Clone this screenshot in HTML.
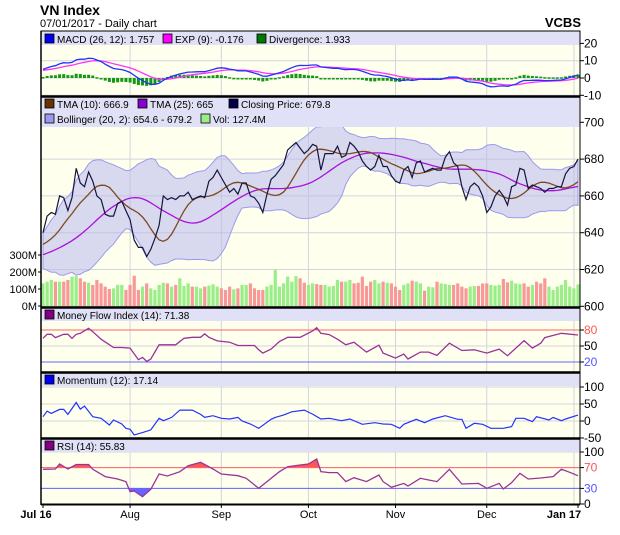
<!DOCTYPE html>
<html><head><meta charset="utf-8"><style>
html,body{margin:0;padding:0;background:#fff}
svg{display:block;font-family:"Liberation Sans",Arial,sans-serif}
</style></head><body>
<svg id="chart" width="620" height="535" viewBox="0 0 620 535">
<text x="40" y="15" font-size="14" font-weight="bold" fill="#000">VN Index</text>
<text x="40" y="27" font-size="11" fill="#000">07/01/2017 - Daily chart</text>
<text x="581" y="27" font-size="13" font-weight="bold" text-anchor="end" fill="#000">VCBS</text>
<g id="layers"></g>
</svg>
<script>
// ---- data ----
const historyCloses = [612,614,611,615,617,616,619,618,621,620,623,622,625,624,626,625,627,626,628,630,629,631,630,632,633,631,634,636,635,638];
const closes = [640,649,651,650,660,659,652,659,675,667,665,673,668,660,658,650,649,649,656,657,652,647,636,632,632,627,631,637,644,660,658,659,658,660,660,662,658,659,660,659,668,670,674,670,666,662,664,661,667,667,660,659,656,651,661,669,671,674,677,685,687,689,686,683,685,688,687,674,683,683,
683,687,681,682,689,687,684,679,676,674,676,682,676,676,671,668,667,674,676,670,678,679,673,674,675,674,674,681,684,678,676,665,658,665,667,665,660,651,654,660,663,660,655,665,666,675,674,664,666,665,664,662,664,664,665,665,672,675,676,680];
const volumes = [133,143,153,143,143,143,153,173,176,163,143,137,124,153,133,114,100,104,124,124,94,124,178,94,114,133,104,94,124,137,133,114,124,163,118,133,114,114,104,114,120,127,114,104,94,114,98,104,124,124,133,104,94,94,114,124,212,114,133,173,143,176,163,137,124,133,129,124,124,114,
118,153,143,143,153,133,137,173,118,143,153,133,143,137,133,114,94,124,133,149,143,133,90,114,110,143,133,129,124,124,133,114,104,114,118,118,133,133,124,120,124,159,139,149,133,129,133,114,124,143,133,163,114,94,114,124,153,114,104,127];
const mfiDays = [0,1,2,3,5,6,7,8,9,11,12,14,17,19,21,23,24,25,26,28,30,32,34,36,38,39,40,42,45,47,51,52,53,55,57,59,62,65,66,67,69,71,73,75,78,81,82,85,87,88,91,93,95,98,101,104,107,110,112,116,118,120,121,125,129];
const mfiValues = [64.5,72,72,65.8,72,72,64.5,72,73.8,83.1,76.9,62.7,47.2,47.2,46,24.3,28.7,21.2,25.6,52.2,52.2,52.2,64.5,66.4,66.4,72.6,66.4,59.6,57.1,50.9,50.9,42.9,36.7,44.1,58.4,66.4,66.4,78.1,84.3,73.8,71.3,62.7,52.2,57.1,38.6,51.5,36.7,27.4,34.8,25.6,38.6,38.6,32.4,55.3,41.6,42.9,36.7,44.1,31.8,60.2,46,55.3,65.8,73.8,70.7];
const momDays = [0,1,2,4,5,6,8,9,10,12,14,16,17,19,20,21,22,24,26,28,29,31,33,36,38,39,41,43,45,47,48,50,52,55,56,58,60,63,65,67,69,72,74,77,80,82,84,86,87,90,92,94,97,100,101,102,104,106,108,111,113,114,116,118,119,122,123,125,126,129];
const momValues = [12.6,29.1,22.3,34,34,19.4,54.4,35,43.7,12.6,7.8,-11.7,2.9,-8.7,-21.4,-24.3,-40.8,-34,-26.2,7.8,1,10.7,32,32,19.4,10.7,15.5,7.8,5.8,10.7,0,-8.7,-21.4,4.9,10.7,17.5,27.2,32,20.4,5.8,7.8,1,5.8,-9.7,-4.9,-8.7,-9.7,-21.4,-9.7,4.9,-4.9,5.8,15.5,4.9,4.9,-21.4,-6.8,-9.7,-21.4,-21.4,-16.5,7.8,7.8,-1.9,12.6,2.9,10.7,1,5.8,17.5];
const rsiDays = [0,3,4,6,8,11,12,15,18,20,21,22,24,26,28,30,33,35,38,41,43,47,49,52,54,57,59,62,64,66,67,69,71,73,75,78,81,82,84,87,88,91,93,95,98,101,105,107,110,111,113,115,117,120,123,125,127,129];
const rsiValues = [66.7,67.3,76.9,67.3,76,76,66.7,52.6,48.1,43,23.7,25,14.1,28.2,57.7,53.8,62.2,73.7,80.1,67.3,57.7,54.5,49.4,30.1,43,62.2,71.8,75,76.9,86.5,62.2,60.3,60.3,43,50.6,43,55.8,43,32.1,39.7,34.6,49.4,46.2,43,66.7,38.5,39.7,30.1,39.7,28.8,41,59,48.1,50,52.6,66.7,60.9,54.5];
const monthLabels = ["Jul 16","Aug","Sep","Oct","Nov","Dec","Jan 17"];
const monthIndex = [0,21,43,64,85,107,129];
const priceTicks = [700,680,660,640,620,600];
const volTicks = [300,200,100,0];
const macdTicks = [20,10,0,-10];
const mfiTicks = [80,50,20];
const momTicks = [100,50,0,-50];
const rsiTicks = [100,70,30,0];

// ---- geometry ----
const X0=41, X1=580, N=closes.length;
const xs = i => X0 + 2 + i*(X1-X0-4)/(N-1);
const yPrice = p => 122.3 + (700-p)*1.84;
const yVol = v => 306 - v*0.17;
const yMacd = v => 78 - v*1.73;
const yMfi = v => 330 + (80-v)*0.5333;
const yMom = v => 421 - v*0.34;
const yRsi = v => 504 - v*0.52;

// ---- indicators from closes ----
const full = historyCloses.concat(closes);
const H = historyCloses.length;
function sma(a,n){return a.map((_,i)=>{const s=Math.max(0,i-n+1);let t=0;for(let k=s;k<=i;k++)t+=a[k];return t/(i-s+1);});}
function ema(a,n){const k=2/(n+1);let out=[];a.forEach((v,i)=>out.push(i?v*k+out[i-1]*(1-k):v));return out;}
const tma10 = sma(sma(full,6),5);
const tma25 = sma(sma(full,13),13);
const mid20 = sma(full,20);
const sd20 = full.map((_,i)=>{const s=Math.max(0,i-19);let m=mid20[i],t=0;for(let k=s;k<=i;k++)t+=(full[k]-m)**2;return Math.sqrt(t/(i-s+1));});
const e12=ema(full,12), e26=ema(full,26);
const macd=e12.map((v,i)=>v-e26[i]);
const sig=ema(macd,9);

// ---- drawing helpers ----
const NS="http://www.w3.org/2000/svg";
const root=document.getElementById('layers');
function el(tag,attrs,parent){const e=document.createElementNS(NS,tag);for(const k in attrs)e.setAttribute(k,attrs[k]);(parent||root).appendChild(e);return e;}
function pts(arr,fy){let s="";for(let i=0;i<N;i++)s+=(i?"L":"M")+xs(i).toFixed(1)+","+fy(arr[H+i]).toFixed(1);return s;}
function spts(days,vals,fy){let s="";days.forEach((d,i)=>{s+=(i?"L":"M")+xs(d).toFixed(1)+","+fy(vals[i]).toFixed(1);});return s;}

const panels=[
 {name:'macd-panel',top:31,hdr:45,bot:96},
 {name:'price-panel',top:97,hdr:127,bot:307},
 {name:'mfi-panel',top:308,hdr:321,bot:372},
 {name:'momentum-panel',top:373,hdr:386,bot:438},
 {name:'rsi-panel',top:439,hdr:452,bot:504}
];
panels.forEach(p=>{
 const g=el('g',{});
 
 
 el('rect',{x:X0,y:p.top,width:X1-X0,height:p.bot-p.top,fill:'#ffffee'},g);
 monthIndex.slice(1,6).forEach(mi=>el('line',{x1:xs(mi),x2:xs(mi),y1:p.top,y2:p.bot,stroke:'#d4d4dc','stroke-width':1},g));
 el('line',{x1:X1-6,x2:X1-6,y1:p.top,y2:p.bot,stroke:'#d4d4dc','stroke-width':1},g);
});
function hgrid(ticks,fy,labelColors){
 ticks.forEach((t,i)=>{const y=fy(t);
  el('line',{x1:X0,x2:X1,y1:y,y2:y,stroke:'#d4d4dc','stroke-width':1});
  el('line',{x1:X1,x2:X1+4,y1:y,y2:y,stroke:'#000','stroke-width':1});
  const tx=el('text',{x:X1+4,y:y+4,'font-size':12,fill:(labelColors&&labelColors[i])||'#000'});
  
  
  tx.textContent=t;});
}
hgrid(macdTicks,yMacd);
hgrid(priceTicks,yPrice);
hgrid(mfiTicks,yMfi,['#ff5555','#000','#5555ff']);
hgrid(momTicks,yMom);
hgrid(rsiTicks,yRsi,['#000','#ff5555','#5555ff','#000']);
volTicks.forEach(v=>{const t=el('text',{x:37,y:yVol(v)+4,'font-size':11,'text-anchor':'end',fill:'#000'});
 
 
 t.textContent=v+'M';
 el('line',{x1:X0-3,x2:X0,y1:yVol(v),y2:yVol(v),stroke:'#000'});});

// MACD
const dz=yMacd(0);
for(let i=0;i<N;i++){const d=macd[H+i]-sig[H+i];const y=yMacd(d);
 const b=el('rect',{x:xs(i)-1.5,y:Math.min(y,dz),width:3,height:Math.max(1.5,Math.abs(y-dz)),fill:'#119911'});
 
 }
let l=el('path',{d:pts(sig,yMacd),fill:'none',stroke:'#ff33ff','stroke-width':1.3});


l=el('path',{d:pts(macd,yMacd),fill:'none',stroke:'#2233ff','stroke-width':1.3});



// Volume
for(let i=0;i<N;i++){const up=i===0?true:closes[i]>=closes[i-1];
 const b=el('rect',{x:xs(i)-1.6,y:yVol(volumes[i]),width:3.2,height:306-yVol(volumes[i]),fill:up?'#99ee88':'#f89898'});
 
 }
// Bollinger
let up="",lo="";
for(let i=0;i<N;i++){up+=(i?"L":"M")+xs(i).toFixed(1)+","+yPrice(mid20[H+i]+2*sd20[H+i]).toFixed(1);}
for(let i=N-1;i>=0;i--){lo+="L"+xs(i).toFixed(1)+","+yPrice(mid20[H+i]-2*sd20[H+i]).toFixed(1);}
l=el('path',{d:up+lo+"Z",fill:'#b8b8ee','fill-opacity':0.55,stroke:'#9a9af0','stroke-width':1});


l=el('path',{d:pts(tma25,yPrice),fill:'none',stroke:'#aa11dd','stroke-width':1.3});


l=el('path',{d:pts(tma10,yPrice),fill:'none',stroke:'#7a4a22','stroke-width':1.3});


l=el('path',{d:pts(full,yPrice),fill:'none',stroke:'#151540','stroke-width':1.2});



// clip defs
const defs=el('defs',{});
const c1=el('clipPath',{id:'above70'},defs);el('rect',{x:X0,y:439,width:X1-X0,height:yRsi(70)-439},c1);
const c2=el('clipPath',{id:'below30'},defs);el('rect',{x:X0,y:yRsi(30),width:X1-X0,height:504-yRsi(30)},c2);
const c3=el('clipPath',{id:'above80'},defs);el('rect',{x:X0,y:308,width:X1-X0,height:yMfi(80)-308},c3);

// MFI
const mp=spts(mfiDays,mfiValues,yMfi);
const lastM=mfiDays[mfiDays.length-1];
el('path',{d:mp+"L"+xs(lastM)+","+yMfi(80)+"L"+xs(0)+","+yMfi(80)+"Z",fill:'#ff5555','clip-path':'url(#above80)'});
el('line',{x1:X0,x2:X1,y1:yMfi(80),y2:yMfi(80),stroke:'#ff6666'});
el('line',{x1:X0,x2:X1,y1:yMfi(20),y2:yMfi(20),stroke:'#6666ff'});
l=el('path',{d:mp,fill:'none',stroke:'#993399','stroke-width':1.3});


// Momentum
l=el('path',{d:spts(momDays,momValues,yMom),fill:'none',stroke:'#2233ff','stroke-width':1.2});


// RSI with fills
const rp=spts(rsiDays,rsiValues,yRsi);
const lastR=rsiDays[rsiDays.length-1];
el('path',{d:rp+"L"+xs(lastR)+","+yRsi(70)+"L"+xs(0)+","+yRsi(70)+"Z",fill:'#ff5555','clip-path':'url(#above70)'});
el('path',{d:rp+"L"+xs(lastR)+","+yRsi(30)+"L"+xs(0)+","+yRsi(30)+"Z",fill:'#6666ff','clip-path':'url(#below30)'});
el('line',{x1:X0,x2:X1,y1:yRsi(70),y2:yRsi(70),stroke:'#ff6666'});
el('line',{x1:X0,x2:X1,y1:yRsi(30),y2:yRsi(30),stroke:'#6666ff'});
l=el('path',{d:rp,fill:'none',stroke:'#993399','stroke-width':1.3});



// headers
panels.forEach(p=>el('rect',{x:X0,y:p.top,width:X1-X0,height:p.hdr-p.top,fill:'#e0e0f6'}));
function legend(x,y,color,text,name){
 el('rect',{x:x,y:y-9,width:9,height:9,fill:color,stroke:'#000','stroke-width':0.8});
 const t=el('text',{x:x+12,y:y,'font-size':10,fill:'#000'});
 
 
 t.textContent=text;}
legend(45,43,'#0000ee','MACD (26, 12): 1.757','legend-macd');
legend(163,43,'#ff00ff','EXP (9): -0.176','legend-exp');
legend(257,43,'#007700','Divergence: 1.933','legend-divergence');
legend(45,108,'#663300','TMA (10): 666.9','legend-tma10');
legend(138,108,'#8800cc','TMA (25): 665','legend-tma25');
legend(229,108,'#000044','Closing Price: 679.8','legend-closing-price');
legend(45,123,'#9999ee','Bollinger (20, 2): 654.6 - 679.2','legend-bollinger');
legend(201,123,'#99ee88','Vol: 127.4M','legend-volume');
legend(45,319,'#800080','Money Flow Index (14): 71.38','legend-mfi');
legend(45,384,'#0000ee','Momentum (12): 17.14','legend-momentum');
legend(45,450,'#800080','RSI (14): 55.83','legend-rsi');

// frame and separators
el('rect',{x:X0,y:31,width:X1-X0,height:473,fill:'none',stroke:'#000','stroke-width':1});
[96.5,307.5,372.5,438.5].forEach(y=>el('line',{x1:X0,x2:X1,y1:y,y2:y,stroke:'#000','stroke-width':2.5}));
el('line',{x1:X0,x2:X1,y1:504.5,y2:504.5,stroke:'#000','stroke-width':2});
el('line',{x1:X0,x2:X0,y1:31,y2:505,stroke:'#000','stroke-width':1.5});
monthLabels.forEach((m,i)=>{const x=i===0?36:(i===6?564:xs(monthIndex[i]));
 el('line',{x1:xs(monthIndex[i]),x2:xs(monthIndex[i]),y1:505,y2:508,stroke:'#000'});
 const t=el('text',{x:x,y:518,'font-size':11,'font-weight':(i===0||i===6)?'bold':'normal','text-anchor':'middle',fill:'#000'});
 
 
 t.textContent=m;});
</script>
</body></html>
